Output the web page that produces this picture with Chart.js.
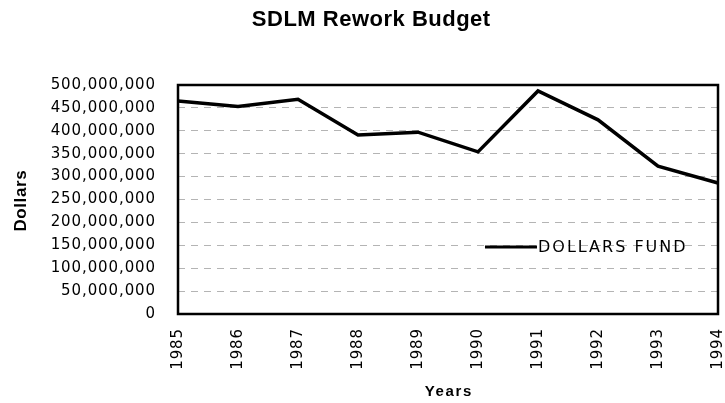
<!DOCTYPE html>
<html>
<head>
<meta charset="utf-8">
<script src="https://cdn.jsdelivr.net/npm/chart.js@4.4.0/dist/chart.umd.min.js"></script>
<style>
  html, body { margin: 0; padding: 0; background: #fff; }
  #wrap { width: 725px; height: 403px; }
</style>
</head>
<body>
<div id="wrap"><canvas id="myChart" width="725" height="403"></canvas></div>
<script>
const years = ['1985', '1986', '1987', '1988', '1989', '1990', '1991', '1992', '1993', '1994']
const dollarsFund = [465000000, 453000000, 469000000, 391000000, 397000000, 354000000, 487000000, 424000000, 323000000, 286000000]
const yTicks = [0, 50000000, 100000000, 150000000, 200000000, 250000000, 300000000, 350000000, 400000000, 450000000, 500000000]

const font = "'Liberation Sans', Arial, sans-serif"
const wide = "'DejaVu Sans', sans-serif"

// the scanned original has wide lettering
function spaced(chart) {
  chart.ctx.letterSpacing = '0.9px'
}

function label(c, text, x, y, size, spacing, rotate) {
  c.save()
  c.translate(x, y)
  if (rotate) c.rotate(-Math.PI / 2)
  c.letterSpacing = spacing + 'px'
  c.font = 'bold ' + size + 'px ' + font
  c.fillStyle = '#000'
  c.textAlign = 'center'
  c.textBaseline = 'middle'
  c.fillText(text, spacing / 2, 0)
  c.restore()
}

// frame, titles and the legend inside the plot
const framePlugin = {
  id: 'frame',
  beforeLayout: spaced,
  beforeDraw: spaced,
  afterDraw(chart) {
    const c = chart.ctx
    const a = chart.chartArea
    c.save()
    c.strokeStyle = '#000'
    c.lineWidth = 2.5
    c.strokeRect(a.left, a.top, a.right - a.left, a.bottom - a.top)

    const lx = a.left + (a.right - a.left) * 0.5685
    const ly = a.top + (a.bottom - a.top) * 0.707
    c.lineWidth = 3
    c.beginPath()
    c.moveTo(lx, ly)
    c.lineTo(lx + 52, ly)
    c.stroke()
    c.fillStyle = '#000'
    c.letterSpacing = '2px'
    c.font = '16px ' + wide
    c.textBaseline = 'middle'
    c.fillText(chart.data.datasets[0].label, lx + 53, ly + 1)
    c.restore()

    label(c, 'SDLM Rework Budget', 371, 20, 22, 0.5, false)
    label(c, 'Dollars', 21, 201, 17, 0.6, true)
    label(c, 'Years', (a.left + a.right) / 2, 392, 15, 1.6, false)
  }
}

const ctx = document.getElementById('myChart')

new Chart(ctx, {
  type: 'line',
  data: {
    labels: years,
    datasets: [{
      label: 'DOLLARS FUND',
      data: dollarsFund,
      borderColor: '#000',
      borderWidth: 3.5,
      pointRadius: 0,
      tension: 0,
      fill: false
    }]
  },
  options: {
    responsive: false,
    animation: false,
    devicePixelRatio: 1,
    layout: { padding: { left: 51, right: 7, top: 85, bottom: 35 } },
    plugins: {
      legend: { display: false },
      tooltip: { enabled: false },
      title: { display: false }
    },
    scales: {
      x: {
        offset: false,
        grid: { display: false, drawTicks: false },
        border: { display: false },
        afterFit(scale) {
          scale.paddingLeft = 0
          scale.paddingRight = 0
          scale.height = 54
        },
        ticks: {
          color: '#000',
          font: { family: wide, size: 15 },
          minRotation: 90,
          maxRotation: 90,
          padding: 14,
          autoSkip: false
        }
      },
      y: {
        min: 0,
        max: 500000000,
        afterBuildTicks(scale) {
          scale.ticks = yTicks.map(v => ({ value: v }))
        },
        afterFit(scale) {
          scale.width = 127
        },
        grid: {
          color: '#b4b4b4',
          lineWidth: 1,
          drawTicks: false
        },
        border: { display: false, dash: [7, 6] },
        ticks: {
          color: '#000',
          font: { family: wide, size: 15 },
          padding: 22,
          callback: v => v.toLocaleString('en-US')
        }
      }
    }
  },
  plugins: [framePlugin]
})
</script>
</body>
</html>
